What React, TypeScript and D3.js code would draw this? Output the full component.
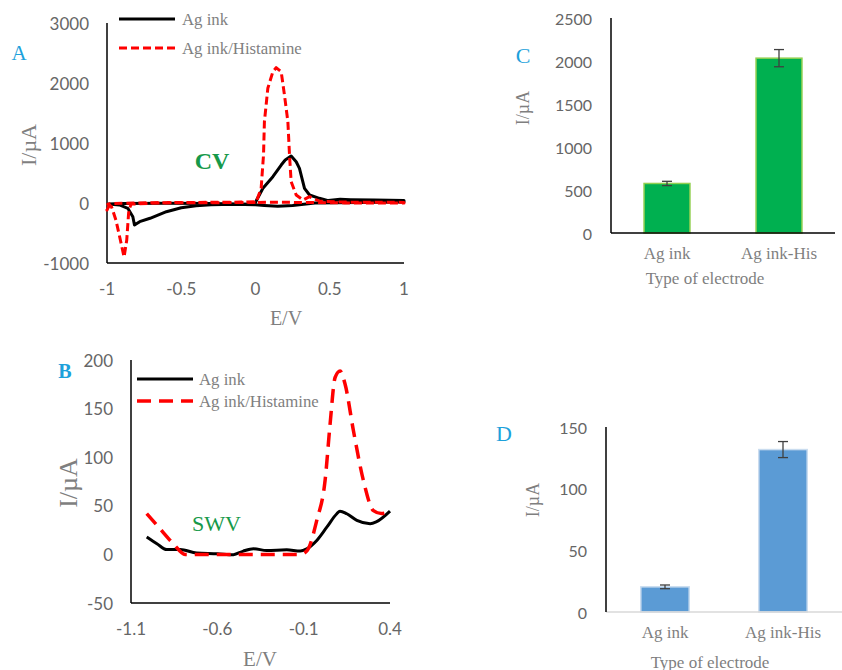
import React from "react";
import * as d3 from "d3";

// Panel A – cyclic voltammetry (E in V, I in µA), points in scan order
const cvAgInk: [number, number][] = [
  [0, -30], [-0.15, -22], [-0.3, -30], [-0.4, -45], [-0.5, -80], [-0.6, -145],
  [-0.71, -255], [-0.78, -311], [-0.815, -367], [-0.826, -228], [-0.86, -88],
  [-0.916, -33], [-0.99, -17], [-0.9, -8], [-0.6, -5], [-0.3, -8], [-0.007, -20],
  [0.05, 245], [0.117, 438], [0.173, 633], [0.2, 717], [0.24, 783], [0.274, 688],
  [0.296, 578], [0.33, 245], [0.364, 133], [0.43, 78], [0.49, 40], [0.57, 61],
  [0.64, 55], [0.8, 48], [1, 40], [1, 15], [0.7, 10], [0.4, 0], [0.25, -40],
  [0.15, -55], [0.06, -40], [0, -30],
];
const cvAgInkHis: [number, number][] = [
  [0, 10], [-0.3, 5], [-0.6, 2], [-0.837, -17], [-0.853, -117], [-0.867, -617],
  [-0.885, -900], [-0.91, -617], [-0.94, -283], [-0.97, -60], [-0.994, -17],
  [-1, -117], [-0.98, -10], [-0.7, 5], [-0.4, 10], [-0.1, 15], [0.005, 22],
  [0.038, 245], [0.054, 800], [0.06, 1355], [0.083, 1912], [0.117, 2188],
  [0.139, 2255], [0.173, 2188], [0.195, 1800], [0.218, 1355], [0.229, 800],
  [0.24, 355], [0.274, 133], [0.32, 50], [0.364, 105], [0.43, 30], [0.6, 15],
  [1, 10], [1, 0], [0.6, 2], [0.3, 10], [0.1, 12], [0, 10],
];
const cvXTicks = [-1, -0.5, 0, 0.5, 1];
const cvYTicks = [-1000, 0, 1000, 2000, 3000];

// Panel B – square wave voltammetry
const swvAgInk: [number, number][] = [
  [-1.009, 17.8], [-0.95, 11], [-0.893, 5], [-0.815, 5], [-0.72, 1.4], [-0.6, 0.7],
  [-0.507, -0.3], [-0.45, 3.4], [-0.39, 5.8], [-0.314, 4], [-0.198, 4.7],
  [-0.12, 3.4], [-0.082, 5.8], [-0.024, 14.4], [0.034, 28], [0.092, 41.8],
  [0.11, 44.5], [0.15, 41.8], [0.208, 35], [0.285, 31.6], [0.32, 33.4], [0.4, 44.5],
];
const swvAgInkHis: [number, number][] = [
  [-1.009, 41.9], [-0.94, 28], [-0.855, 11], [-0.787, 0], [-0.7, 0], [-0.5, 0],
  [-0.3, 0], [-0.12, 0], [-0.08, 4], [-0.024, 35], [0.024, 76], [0.053, 134],
  [0.082, 182], [0.111, 188.6], [0.14, 175], [0.188, 127.5], [0.246, 76],
  [0.304, 45], [0.35, 42], [0.4, 44],
];
const swvXTicks = [-1.1, -0.6, -0.1, 0.4];
const swvYTicks = [-50, 0, 50, 100, 150, 200];

// Panels C and D – peak currents
const electrodes = ["Ag ink", "Ag ink-His"];
const cvPeak = [576, 2033];
const cvPeakErr = [25, 100];
const cvBarTicks = [0, 500, 1000, 1500, 2000, 2500];
const swvPeak = [20.4, 131.7];
const swvPeakErr = [1.5, 6.5];
const swvBarTicks = [0, 50, 100, 150];

const tickFont = "Lato, 'Open Sans', sans-serif";
const serif = "'Liberation Serif', 'Times New Roman', serif";
const gray = "#7f7f7f";
const tickGray = "#666666";
const blue = "#1da1db";
const green = "#16994a";

const CvPanel = () => {
  const x = d3.scaleLinear().domain([-1, 1]).range([107, 404]);
  const y = d3.scaleLinear().domain([-1000, 3000]).range([263, 23]);
  const line = d3.line<[number, number]>().x(d => x(d[0])).y(d => y(d[1]));
  return (
    <g>
      <text x={19} y={53} fill={blue} fontFamily={serif} fontSize={21} textAnchor="middle" dominantBaseline="central">A</text>
      {cvYTicks.map(t => (
        <text key={t} x={89} y={y(t)} fill={tickGray} fontFamily={tickFont} fontSize={17} textAnchor="end" dominantBaseline="central">{t}</text>
      ))}
      {cvXTicks.map(t => (
        <text key={t} x={x(t)} y={288} fill={tickGray} fontFamily={tickFont} fontSize={17} textAnchor="middle" dominantBaseline="central">{t}</text>
      ))}
      <line x1={x(-1)} x2={x(-1)} y1={y(3000)} y2={y(-1000)} stroke="#000" strokeWidth={1.5} />
      <line x1={x(-1)} x2={x(1)} y1={y(-1000)} y2={y(-1000)} stroke="#000" strokeWidth={1.5} />
      <path d={line(cvAgInk) ?? ""} fill="none" stroke="#000" strokeWidth={3} strokeLinejoin="round" />
      <path d={line(cvAgInkHis) ?? ""} fill="none" stroke="#ff0000" strokeWidth={3} strokeDasharray="8,4" strokeLinejoin="round" />
      <text x={286} y={318} fill={gray} fontFamily={serif} fontSize={20} textAnchor="middle" dominantBaseline="central">E/V</text>
      <text transform="translate(28,145) rotate(-90)" fill={gray} fontFamily={serif} fontSize={22} textAnchor="middle" dominantBaseline="central">I/µA</text>
      <text x={212} y={161} fill={green} fontFamily={serif} fontSize={24} fontWeight="bold" textAnchor="middle" dominantBaseline="central">CV</text>
      <line x1={119} x2={175} y1={19} y2={19} stroke="#000" strokeWidth={3} />
      <text x={182} y={19} fill={gray} fontFamily={serif} fontSize={16.8} dominantBaseline="central">Ag ink</text>
      <line x1={119} x2={175} y1={48} y2={48} stroke="#ff0000" strokeWidth={3} strokeDasharray="8,4" />
      <text x={182} y={48} fill={gray} fontFamily={serif} fontSize={16.8} dominantBaseline="central">Ag ink/Histamine</text>
    </g>
  );
};

const SwvPanel = () => {
  const x = d3.scaleLinear().domain([-1.1, 0.4]).range([131, 390]);
  const y = d3.scaleLinear().domain([-50, 200]).range([603, 360]);
  const line = d3.line<[number, number]>().x(d => x(d[0])).y(d => y(d[1])).curve(d3.curveMonotoneX);
  return (
    <g>
      <text x={65} y={371} fill={blue} fontFamily={serif} fontSize={20} fontWeight="bold" textAnchor="middle" dominantBaseline="central">B</text>
      {swvYTicks.map(t => (
        <text key={t} x={113} y={y(t)} fill={tickGray} fontFamily={tickFont} fontSize={17} textAnchor="end" dominantBaseline="central">{t}</text>
      ))}
      {swvXTicks.map(t => (
        <text key={t} x={x(t)} y={628} fill={tickGray} fontFamily={tickFont} fontSize={17} textAnchor="middle" dominantBaseline="central">{t}</text>
      ))}
      <line x1={x(-1.1)} x2={x(-1.1)} y1={y(200)} y2={y(-50)} stroke="#000" strokeWidth={1.5} />
      <line x1={x(-1.1)} x2={x(0.4)} y1={y(-50)} y2={y(-50)} stroke="#000" strokeWidth={1.5} />
      <path d={line(swvAgInk) ?? ""} fill="none" stroke="#000" strokeWidth={3} strokeLinejoin="round" />
      <path d={line(swvAgInkHis) ?? ""} fill="none" stroke="#ff0000" strokeWidth={3.5} strokeDasharray="14,8" />
      <text x={260} y={659} fill={gray} fontFamily={serif} fontSize={21} textAnchor="middle" dominantBaseline="central">E/V</text>
      <text transform="translate(68,483) rotate(-90)" fill={gray} fontFamily={serif} fontSize={26} textAnchor="middle" dominantBaseline="central">I/µA</text>
      <text x={192} y={523} fill={green} fontFamily={serif} fontSize={22} dominantBaseline="central">SWV</text>
      <line x1={137} x2={193} y1={379} y2={379} stroke="#000" strokeWidth={3} />
      <text x={199} y={379} fill={gray} fontFamily={serif} fontSize={16.8} dominantBaseline="central">Ag ink</text>
      <line x1={137} x2={193} y1={401} y2={401} stroke="#ff0000" strokeWidth={3.5} strokeDasharray="14,8" />
      <text x={199} y={401} fill={gray} fontFamily={serif} fontSize={16.8} dominantBaseline="central">Ag ink/Histamine</text>
    </g>
  );
};

type BarProps = {
  values: number[];
  errors: number[];
  ticks: number[];
  left: number;
  right: number;
  top: number;
  bottom: number;
  fill: string;
  stroke: string;
  xAxisColor: string;
  letter: string;
  letterPos: [number, number];
  tickX: number;
  catY: number;
  titleY: number;
  titleX: number;
  yLabelPos: [number, number];
};

const BarPanel = (p: BarProps) => {
  const x = d3.scaleBand().domain(electrodes).range([p.left, p.right]).paddingInner(0.59).paddingOuter(0.295);
  const maxT = p.ticks[p.ticks.length - 1];
  const y = d3.scaleLinear().domain([0, maxT]).range([p.bottom, p.top]);
  const bw = x.bandwidth();
  return (
    <g>
      <text x={p.letterPos[0]} y={p.letterPos[1]} fill={blue} fontFamily={serif} fontSize={22} textAnchor="middle" dominantBaseline="central">{p.letter}</text>
      {p.ticks.map(t => (
        <text key={t} x={p.tickX} y={y(t)} fill={tickGray} fontFamily={tickFont} fontSize={16} textAnchor="end" dominantBaseline="central">{t}</text>
      ))}
      {electrodes.map((c, i) => {
        const cx = (x(c) ?? 0) + bw / 2;
        const lo = y(p.values[i] - p.errors[i]);
        const hi = y(p.values[i] + p.errors[i]);
        return (
          <g key={c}>
            <rect x={x(c)} y={y(p.values[i])} width={bw} height={y(0) - y(p.values[i])} fill={p.fill} stroke={p.stroke} strokeWidth={1.5} />
            <line x1={cx} x2={cx} y1={lo} y2={hi} stroke="#404040" strokeWidth={1.3} />
            <line x1={cx - 5} x2={cx + 5} y1={lo} y2={lo} stroke="#404040" strokeWidth={1.3} />
            <line x1={cx - 5} x2={cx + 5} y1={hi} y2={hi} stroke="#404040" strokeWidth={1.3} />
            <text x={cx} y={p.catY} fill={gray} fontFamily={serif} fontSize={17} textAnchor="middle" dominantBaseline="central">{c}</text>
          </g>
        );
      })}
      <line x1={p.left} x2={p.right} y1={p.bottom} y2={p.bottom} stroke={p.xAxisColor} strokeWidth={1.5} />
      <line x1={p.left} x2={p.left} y1={p.top} y2={p.bottom} stroke="#000" strokeWidth={1.5} />
      <text x={p.titleX} y={p.titleY} fill={gray} fontFamily={serif} fontSize={17} textAnchor="middle" dominantBaseline="central">Type of electrode</text>
      <text transform={`translate(${p.yLabelPos[0]},${p.yLabelPos[1]}) rotate(-90)`} fill={gray} fontFamily={serif} fontSize={18} textAnchor="middle" dominantBaseline="central">I/µA</text>
    </g>
  );
};

const App = () => (
  <svg width={842} height={670} style={{ position: "absolute", left: 0, top: 0, background: "#fff" }}>
    <CvPanel />
    <SwvPanel />
    <BarPanel
      values={cvPeak} errors={cvPeakErr} ticks={cvBarTicks}
      left={611} right={835} top={18} bottom={233}
      fill="#00b050" stroke="#92d050" xAxisColor="#000"
      letter="C" letterPos={[523, 55]} tickX={592} catY={253} titleY={278} titleX={705}
      yLabelPos={[523, 108]}
    />
    <BarPanel
      values={swvPeak} errors={swvPeakErr} ticks={swvBarTicks}
      left={606} right={842} top={427} bottom={612}
      fill="#5b9bd5" stroke="#c9dcef" xAxisColor="#d9d9d9"
      letter="D" letterPos={[504, 433]} tickX={587} catY={632} titleY={662} titleX={710}
      yLabelPos={[533, 500]}
    />
  </svg>
);

export default App;
